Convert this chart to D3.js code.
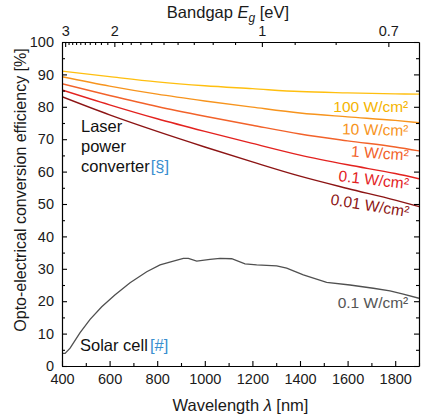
<!DOCTYPE html>
<html>
<head>
<meta charset="utf-8">
<script src="https://cdn.jsdelivr.net/npm/d3@7"></script>
<style>
  html, body { margin: 0; padding: 0; background: #fff; }
  svg text { font-family: "Liberation Sans", Arial, Helvetica, sans-serif; }
</style>
</head>
<body>
<svg id="chart" width="421" height="418"></svg>
<script>
// Wavelength grid (nm) for the laser power converter curves
const laserWavelengths = [400, 600, 800, 1000, 1200, 1400, 1600, 1800, 1900];
// Efficiency (%) per illumination intensity
const laser100 = [91.0, 89.3, 87.7, 86.5, 85.6, 84.7, 84.3, 84.0, 83.9];
const laser10  = [89.3, 86.4, 83.9, 81.8, 79.9, 78.1, 76.9, 75.8, 75.1];
const laser1   = [87.1, 83.5, 80.1, 77.1, 74.3, 71.6, 69.5, 67.6, 66.4];
const laser01  = [85.2, 80.6, 76.3, 72.4, 68.7, 65.1, 62.1, 59.4, 57.8];
const laser001 = [83.1, 77.5, 72.4, 67.6, 63.0, 58.6, 54.8, 51.2, 49.2];
const laserLabels = ["100 W/cm²", "10 W/cm²", "1 W/cm²", "0.1 W/cm²", "0.01 W/cm²"];

// Solar cell efficiency at 0.1 W/cm²
const solarWavelengths = [400, 413, 434, 476, 518, 567, 622, 686, 756, 812, 868, 910, 931, 966, 1022, 1064, 1113, 1169, 1218, 1302, 1344, 1414, 1512, 1610, 1708, 1778, 1834, 1900];
const solarEff = [3.9, 3.9, 5.5, 10.3, 14.4, 18.3, 21.9, 25.7, 29.1, 31.2, 32.4, 33.2, 33.2, 32.4, 32.9, 33.2, 33.1, 31.5, 31.2, 30.9, 30.2, 28.1, 25.8, 25.0, 24.0, 23.2, 22.2, 20.9];

// Axis ticks
const wlMajorTicks = [400, 600, 800, 1000, 1200, 1400, 1600, 1800];
const wlMinorTicks = [500, 700, 900, 1100, 1300, 1500, 1700, 1900];
const effMajorTicks = [0, 10, 20, 30, 40, 50, 60, 70, 80, 90, 100];
const effMinorTicks = [5, 15, 25, 35, 45, 55, 65, 75, 85, 95];
const gapMajorTicks = [3, 2, 1, 0.7];
const gapMinorTicks = [2.9, 2.8, 2.7, 2.6, 2.5, 2.4, 2.3, 2.2, 2.1,
                       1.9, 1.8, 1.7, 1.6, 1.5, 1.4, 1.3, 1.2, 1.1,
                       0.9, 0.8];

const laserColors = ["#ffbf0f", "#f7941d", "#f2622a", "#e3221f", "#8c1414"];
const labelColors = ["#f5b400", "#f7941d", "#f2622a", "#e3221f", "#8c1414"];
const refColor = "#3a8fcf";

const svg = d3.select("#chart");
const margin = { left: 62, right: 2, top: 42, bottom: 52 };
const W = 421, H = 418;
const x = d3.scaleLinear().domain([400, 1900]).range([margin.left, W - margin.right]);
const y = d3.scaleLinear().domain([0, 100]).range([H - margin.bottom, margin.top]);
const hc = 1239.84; // h*c in eV*nm

const series = [laser100, laser10, laser1, laser01, laser001];

const line = d3.line()
  .x(d => x(d[0]))
  .y(d => y(d[1]))
  .curve(d3.curveMonotoneX);

const plot = svg.append("g");
plot.append("clipPath").attr("id", "clip")
  .append("rect").attr("x", x(400)).attr("y", y(100)).attr("width", x(1900) - x(400)).attr("height", y(0) - y(100));

const curves = plot.append("g").attr("clip-path", "url(#clip)");
series.forEach((vals, i) => {
  curves.append("path")
    .datum(laserWavelengths.map((w, k) => [w, vals[k]]))
    .attr("d", line)
    .attr("fill", "none")
    .attr("stroke", laserColors[i])
    .attr("stroke-width", 1.4);
});

curves.append("path")
  .datum(solarWavelengths.map((w, k) => [w, solarEff[k]]))
  .attr("d", d3.line().x(d => x(d[0])).y(d => y(d[1])))
  .attr("fill", "none")
  .attr("stroke", "#505050")
  .attr("stroke-width", 1.3);

// Axes
const fs = 14.5;

const bottom = d3.axisBottom(x).tickValues(wlMajorTicks).tickSizeInner(-5).tickSizeOuter(0)
  .tickFormat(d3.format("d"));
const gB = svg.append("g").attr("transform", `translate(0,${y(0)})`).call(bottom);
gB.selectAll("text").attr("dy", null).attr("y", 18);
const gBm = svg.append("g").attr("transform", `translate(0,${y(0)})`)
  .call(d3.axisBottom(x).tickValues(wlMinorTicks).tickSizeInner(-3).tickSizeOuter(0).tickFormat(""));
gBm.select(".domain").remove();

const left = d3.axisLeft(y).tickValues(effMajorTicks).tickSizeInner(-5).tickSizeOuter(0).tickPadding(8);
const gL = svg.append("g").attr("transform", `translate(${x(400)},0)`).call(left);
const gLm = svg.append("g").attr("transform", `translate(${x(400)},0)`)
  .call(d3.axisLeft(y).tickValues(effMinorTicks).tickSizeInner(-3).tickSizeOuter(0).tickFormat(""));
gLm.select(".domain").remove();

const gR = svg.append("g").attr("transform", `translate(${x(1900)},0)`)
  .call(d3.axisRight(y).tickValues(effMajorTicks).tickSizeInner(-5).tickSizeOuter(0).tickFormat(""));
const gRm = svg.append("g").attr("transform", `translate(${x(1900)},0)`)
  .call(d3.axisRight(y).tickValues(effMinorTicks).tickSizeInner(-3).tickSizeOuter(0).tickFormat(""));
gRm.select(".domain").remove();

// Top axis: photon energy of the bandgap
const gT = svg.append("g").attr("transform", `translate(0,${y(100)})`)
  .call(d3.axisTop(x).tickValues(gapMajorTicks.map(e => hc / e)).tickSizeInner(-5).tickSizeOuter(0).tickPadding(6)
    .tickFormat((d, i) => String(gapMajorTicks[i])));
const gTm = svg.append("g").attr("transform", `translate(0,${y(100)})`)
  .call(d3.axisTop(x).tickValues(gapMinorTicks.map(e => hc / e)).tickSizeInner(-3).tickSizeOuter(0).tickFormat(""));
gTm.select(".domain").remove();

svg.selectAll(".domain").attr("stroke", "#000").attr("stroke-width", 1.2);
svg.selectAll(".tick line").attr("stroke", "#000").attr("stroke-width", 1.1);
svg.selectAll(".tick text").attr("font-size", fs).attr("fill", "#1a1a1a")
  .attr("font-family", "'Liberation Sans', Arial, sans-serif");

// Axis titles
svg.append("text")
  .attr("x", (x(400) + x(1900)) / 2).attr("y", 411)
  .attr("text-anchor", "middle").attr("font-size", 16.5).attr("fill", "#1a1a1a")
  .call(t => {
    t.append("tspan").text("Wavelength ");
    t.append("tspan").attr("font-style", "italic").text("λ");
    t.append("tspan").text(" [nm]");
  });

svg.append("text")
  .attr("transform", "translate(26,190) rotate(-90)")
  .attr("text-anchor", "middle").attr("font-size", 16).attr("fill", "#1a1a1a")
  .text("Opto-electrical conversion efficiency [%]");

svg.append("text")
  .attr("x", 228).attr("y", 18)
  .attr("text-anchor", "middle").attr("font-size", 16.5).attr("fill", "#1a1a1a")
  .call(t => {
    t.append("tspan").text("Bandgap ");
    t.append("tspan").attr("font-style", "italic").text("E");
    t.append("tspan").attr("font-style", "italic").attr("font-size", 12).attr("dy", 4).text("g");
    t.append("tspan").attr("dy", -4).text(" [eV]");
  });

// Intensity labels on the laser curves
const labelPos = [
  { w: 1855, v: 78.4, rot: 0 },
  { w: 1855, v: 71.0, rot: 1.5 },
  { w: 1855, v: 63.4, rot: 4 },
  { w: 1855, v: 54.6, rot: 6.5 },
  { w: 1855, v: 46.0, rot: 9 }
];
laserLabels.forEach((lab, i) => {
  const p = labelPos[i];
  svg.append("text")
    .attr("transform", `translate(${x(p.w)},${y(p.v)}) rotate(${p.rot})`)
    .attr("text-anchor", "end").attr("font-size", 15.5).attr("fill", labelColors[i])
    .text(lab);
});

svg.append("text")
  .attr("x", x(1855)).attr("y", y(17.9))
  .attr("text-anchor", "end").attr("font-size", 15.5).attr("fill", "#555")
  .text("0.1 W/cm²");

// Annotations
const ann = svg.append("g").attr("font-size", 16.5).attr("fill", "#111");
ann.append("text").attr("x", 81).attr("y", 132).text("Laser");
ann.append("text").attr("x", 81).attr("y", 152).text("power");
ann.append("text").attr("x", 81).attr("y", 172)
  .call(t => {
    t.append("tspan").text("converter");
    t.append("tspan").attr("fill", refColor).attr("dx", 1).text("[§]");
  });
ann.append("text").attr("x", 80).attr("y", 351)
  .call(t => {
    t.append("tspan").text("Solar cell");
    t.append("tspan").attr("fill", refColor).attr("dx", 2).text("[#]");
  });
</script>
</body>
</html>
